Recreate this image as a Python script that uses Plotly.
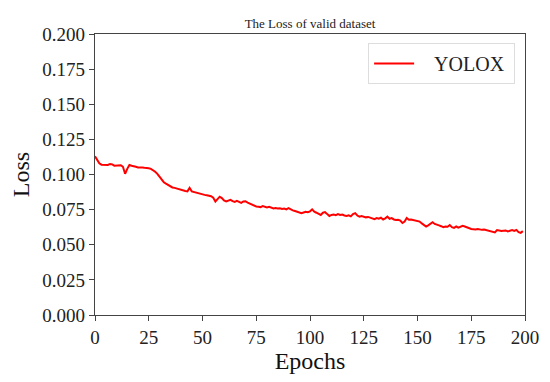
import plotly.graph_objects as go

epochs = list(range(200))
loss = [
    0.1130, 0.1100, 0.1080, 0.1070, 0.1070, 0.1068, 0.1068, 0.1075, 0.1072, 0.1063,
    0.1065, 0.1062, 0.1066, 0.1055, 0.1005, 0.1040, 0.1068, 0.1062, 0.1060, 0.1055,
    0.1050, 0.1052, 0.1050, 0.1048, 0.1049, 0.1045, 0.1040, 0.1032, 0.1020, 0.1005,
    0.0985, 0.0960, 0.0945, 0.0935, 0.0925, 0.0915, 0.0908, 0.0905, 0.0900, 0.0892,
    0.0890, 0.0885, 0.0882, 0.0880, 0.0905, 0.0880, 0.0875, 0.0870, 0.0868, 0.0862,
    0.0860, 0.0855, 0.0852, 0.0848, 0.0845, 0.0835, 0.0808, 0.0825, 0.0842, 0.0832,
    0.0815, 0.0808, 0.0812, 0.0820, 0.0810, 0.0805, 0.0812, 0.0802, 0.0798, 0.0808,
    0.0810, 0.0800, 0.0792, 0.0785, 0.0780, 0.0772, 0.0770, 0.0768, 0.0775, 0.0770,
    0.0765, 0.0770, 0.0762, 0.0758, 0.0762, 0.0758, 0.0760, 0.0755, 0.0758, 0.0752,
    0.0760, 0.0750, 0.0745, 0.0740, 0.0735, 0.0728, 0.0725, 0.0730, 0.0735, 0.0732,
    0.0738, 0.0752, 0.0735, 0.0728, 0.0720, 0.0712, 0.0728, 0.0732, 0.0718, 0.0705,
    0.0712, 0.0715, 0.0710, 0.0718, 0.0712, 0.0715, 0.0708, 0.0705, 0.0710, 0.0702,
    0.0718, 0.0725, 0.0708, 0.0700, 0.0705, 0.0700, 0.0695, 0.0698, 0.0692, 0.0688,
    0.0682, 0.0690, 0.0685, 0.0692, 0.0680, 0.0688, 0.0700, 0.0685, 0.0690, 0.0680,
    0.0676, 0.0678, 0.0672, 0.0655, 0.0665, 0.0690, 0.0678, 0.0680, 0.0675, 0.0672,
    0.0668, 0.0665, 0.0652, 0.0640, 0.0630, 0.0638, 0.0648, 0.0660, 0.0648, 0.0640,
    0.0638, 0.0632, 0.0625, 0.0630, 0.0628, 0.0640, 0.0625, 0.0620, 0.0630, 0.0622,
    0.0628, 0.0635, 0.0630, 0.0622, 0.0618, 0.0612, 0.0610, 0.0608, 0.0612, 0.0608,
    0.0606, 0.0608, 0.0605, 0.0600, 0.0595, 0.0592, 0.0588, 0.0605, 0.0600, 0.0598,
    0.0600, 0.0602, 0.0595, 0.0600, 0.0604, 0.0598, 0.0606, 0.0590, 0.0585, 0.0597,
]
x_ticks = [0, 25, 50, 75, 100, 125, 150, 175, 200]
y_ticks = [0.0, 0.025, 0.05, 0.075, 0.1, 0.125, 0.15, 0.175, 0.2]

FONT = "Liberation Serif, Times New Roman, serif"
AX = "#444444"
NB = "\u00a0"

fig = go.Figure()
fig.add_trace(go.Scatter(x=epochs, y=loss, mode="lines",
                         name=NB * 3 + "YOLOX" + NB,
                         line=dict(color="#ff0000", width=2)))

fig.update_layout(
    template="none",
    width=534, height=366,
    margin=dict(l=87, r=17, t=26, b=59, autoexpand=False),
    paper_bgcolor="white", plot_bgcolor="white",
    font=dict(family=FONT, color="#222222"),
    title=dict(text="The Loss of valid dataset", xref="paper", x=0.5, xanchor="center",
               y=0.959, yanchor="middle", font=dict(size=13, color="#222222")),
    showlegend=True,
    legend=dict(x=0.977, y=0.968, xanchor="right", yanchor="top",
                bgcolor="white", bordercolor="#dddddd", borderwidth=1,
                itemwidth=40,
                font=dict(size=20, color="#222222")),
)
fig.update_xaxes(range=[0, 200], tickvals=x_ticks, ticks="outside", ticklen=5,
                 tickcolor=AX, showline=True, linecolor=AX, linewidth=1.2,
                 mirror=True, showgrid=False, zeroline=False, automargin=False,
                 tickfont=dict(size=19, family=FONT, color="#222222"),
                 title=dict(text="Epochs", font=dict(size=24, family=FONT, color="#111111"),
                            standoff=2))
fig.update_yaxes(range=[0, 0.2], tickvals=y_ticks, tickformat=".3f", ticks="outside",
                 ticklen=5, tickcolor=AX, showline=True, linecolor=AX, linewidth=1.2,
                 mirror=True, showgrid=False, zeroline=False, automargin=False,
                 tickfont=dict(size=19, family=FONT, color="#222222"),
                 title=dict(text="Loss", font=dict(size=24, family=FONT, color="#111111"),
                            standoff=6))

fig.write_html("out.html")
